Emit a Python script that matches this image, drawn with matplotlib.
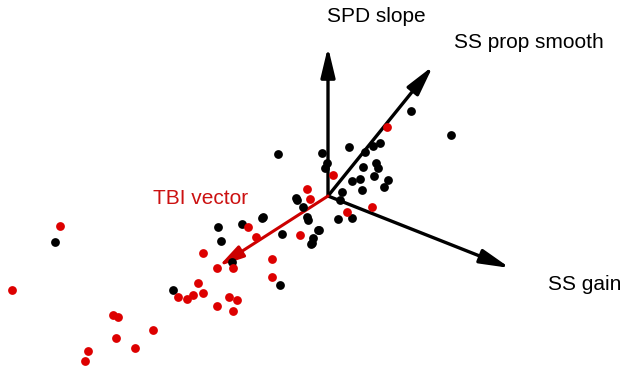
import matplotlib.pyplot as plt
import numpy as np

plt.rcParams['font.family'] = ['Liberation Sans', 'DejaVu Sans']

# -----------------------------
# DATA (projected positions, picture units, y down)
# -----------------------------
origin = (328, 196)

axis_names = ["SPD slope", "SS prop smooth", "SS gain"]
axis_tips_x = [328, 433, 510]
axis_tips_y = [47, 66, 268]

tbi_name = "TBI vector"
tbi_tip = (219, 266)

black_x = [55, 218, 242, 262, 221, 282, 232, 173, 280, 303, 307, 308, 313, 312, 318, 297,
           278, 322, 349, 327, 325, 411, 451, 380, 373, 365, 376, 378, 363, 374, 360, 352,
           388, 384, 362, 342, 296, 340, 263, 338, 352, 319, 311]
black_y = [242, 227, 224, 218, 241, 234, 262, 290, 285, 207, 217, 220, 238, 243, 230, 200,
           154, 153, 147, 163, 168, 111, 135, 143, 146, 152, 163, 168, 167, 176, 179, 181,
           180, 187, 190, 192, 198, 200, 217, 219, 218, 230, 244]

red_x = [60, 12, 248, 256, 203, 217, 233, 272, 272, 300, 198, 178, 187, 193, 203, 217,
         229, 237, 233, 113, 118, 116, 153, 135, 88, 85, 387, 333, 307, 310, 347, 372]
red_y = [226, 290, 227, 237, 253, 268, 268, 259, 277, 235, 283, 297, 299, 295, 293, 306,
         297, 300, 311, 315, 317, 338, 330, 348, 351, 361, 127, 175, 189, 199, 212, 207]

# -----------------------------
# PLOT
# -----------------------------
fig = plt.figure(figsize=(6.23, 3.71), dpi=100)
ax = fig.add_axes([0, 0, 1, 1])
ax.set_xlim(0, 623)
ax.set_ylim(371, 0)
ax.axis("off")

for tx, ty in zip(axis_tips_x, axis_tips_y):
    ax.annotate("", xy=(tx, ty), xytext=origin,
                arrowprops=dict(arrowstyle="-|>,head_length=1.0,head_width=0.24",
                                color="black", lw=2.4, mutation_scale=18,
                                shrinkA=0, shrinkB=0),
                zorder=1)

ax.annotate("", xy=tbi_tip, xytext=origin,
            arrowprops=dict(arrowstyle="-|>,head_length=1.0,head_width=0.26",
                            color="#cc0000", lw=2.2, mutation_scale=15,
                            shrinkA=0, shrinkB=0),
            zorder=1)

ax.scatter(black_x, black_y, s=40, color="black", zorder=3, linewidths=0)
ax.scatter(red_x, red_y, s=40, color="#dd0000", zorder=3, linewidths=0)

ax.text(327, 17, axis_names[0], fontsize=15, va="center", ha="left")
ax.text(454, 42, axis_names[1], fontsize=15, va="center", ha="left")
ax.text(548, 285, axis_names[2], fontsize=15, va="center", ha="left")
ax.text(153, 198, tbi_name, fontsize=15, va="center", ha="left", color="#cc1111")

fig.savefig("out.png", dpi=100)
